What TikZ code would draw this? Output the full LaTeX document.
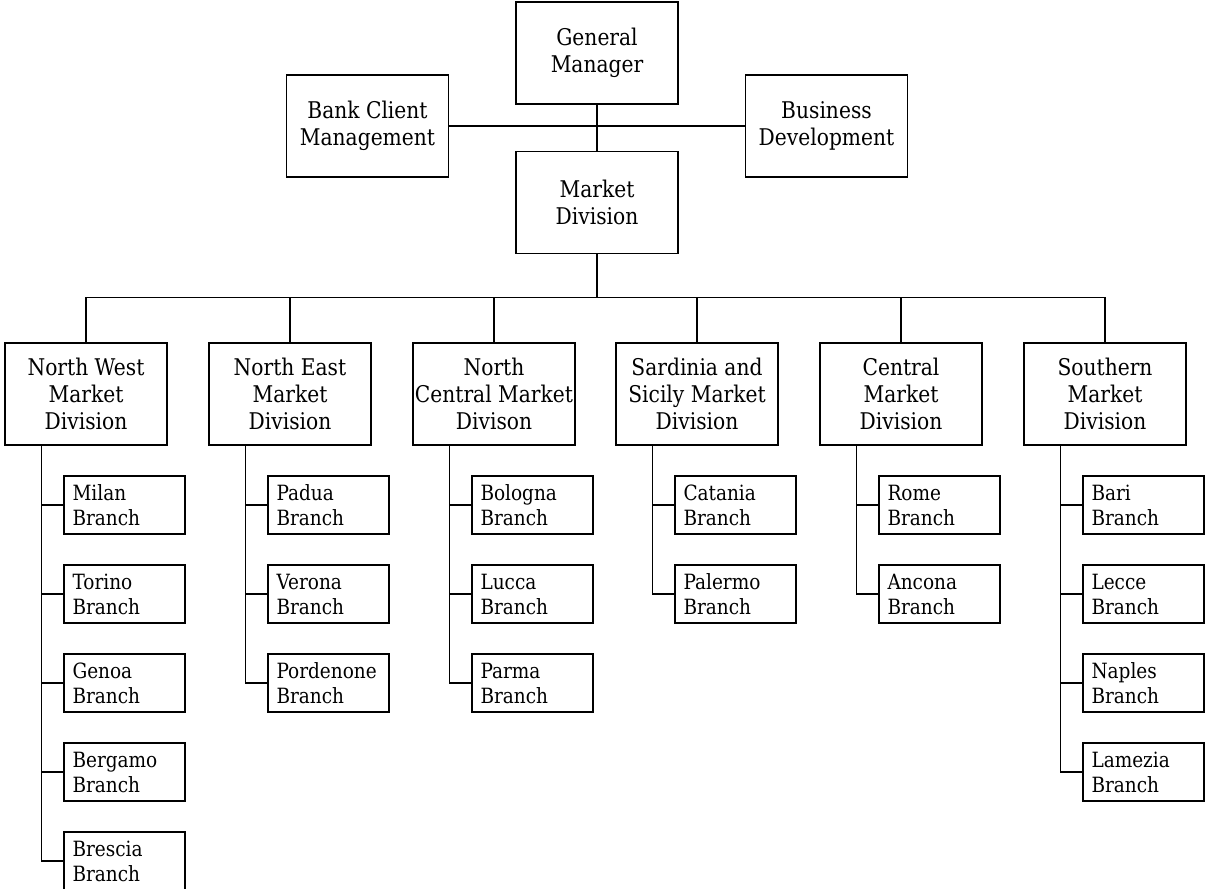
\documentclass[tikz,border=0pt]{standalone}
\usepackage{fontspec}
\setmainfont{DejaVu Serif}[FakeStretch=0.88]
\usepackage{tikz}
\usetikzlibrary{positioning}
\tikzset{
  orgnode/.style = {draw=black, line width=0.6pt, inner sep=0pt},
  org_m/.style = {orgnode, align=center, minimum width=81pt,
    minimum height=51pt, font=\fontsize{11.5}{13.5}\selectfont},% boite principale
  org_b/.style = {orgnode, align=left, text width=52pt, inner xsep=4.25pt,
    minimum height=29pt, font=\fontsize{10.5}{12.5}\selectfont}% agence
}
\begin{document}
\begin{tikzpicture}[x=0.5pt,y=-0.5pt]
\clip (0,0) rectangle (1207,889);
% direction
\node [org_m] (gm) at (597,53) {General\\Manager};
\node [org_m] (md) [below=23pt of gm] {Market\\Division};
\node [org_m] (bcm) at (367.5,126) {Bank Client\\Management};
\node [org_m] (bd) at (826.5,126) {Business\\Development};
\coordinate (bus) at (0,297.7);
% divisions
\node [org_m] (nw) at (86,394) {North West\\Market\\Division};
\node [org_m] (ne) at (290,394) {North East\\Market\\Division};
\node [org_m] (nc) at (494,394) {North\\Central Market\\Divison};
\node [org_m] (ss) at (697,394) {Sardinia and\\Sicily Market\\Division};
\node [org_m] (ce) at (901,394) {Central\\Market\\Division};
\node [org_m] (so) at (1105,394) {Southern\\Market\\Division};
\coordinate (nw_s) at ([xshift=18.5pt]nw.south west);
\coordinate (ne_s) at ([xshift=18.5pt]ne.south west);
\coordinate (nc_s) at ([xshift=18.5pt]nc.south west);
\coordinate (ss_s) at ([xshift=18.5pt]ss.south west);
\coordinate (ce_s) at ([xshift=18.5pt]ce.south west);
\coordinate (so_s) at ([xshift=18.5pt]so.south west);
% agences
\node [org_b] (milan) at (124.5,505) {Milan\\Branch};
\node [org_b] (torino) [below=14.9pt of milan] {Torino\\Branch};
\node [org_b] (genoa) [below=14.9pt of torino] {Genoa\\Branch};
\node [org_b] (bergamo) [below=14.9pt of genoa] {Bergamo\\Branch};
\node [org_b] (brescia) [below=14.9pt of bergamo] {Brescia\\Branch};
\node [org_b] (padua) at (328.5,505) {Padua\\Branch};
\node [org_b] (verona) [below=14.9pt of padua] {Verona\\Branch};
\node [org_b] (pordenone) [below=14.9pt of verona] {Pordenone\\Branch};
\node [org_b] (bologna) at (532.5,505) {Bologna\\Branch};
\node [org_b] (lucca) [below=14.9pt of bologna] {Lucca\\Branch};
\node [org_b] (parma) [below=14.9pt of lucca] {Parma\\Branch};
\node [org_b] (catania) at (735.5,505) {Catania\\Branch};
\node [org_b] (palermo) [below=14.9pt of catania] {Palermo\\Branch};
\node [org_b] (rome) at (939.5,505) {Rome\\Branch};
\node [org_b] (ancona) [below=14.9pt of rome] {Ancona\\Branch};
\node [org_b] (bari) at (1143.5,505) {Bari\\Branch};
\node [org_b] (lecce) [below=14.9pt of bari] {Lecce\\Branch};
\node [org_b] (naples) [below=14.9pt of lecce] {Naples\\Branch};
\node [org_b] (lamezia) [below=14.9pt of naples] {Lamezia\\Branch};
% liens
\begin{scope}[line width=0.6pt]
\draw (gm) -- (md);
\draw (bcm) -- (bd);
\draw (md) -- (md |- bus);
\draw (nw) -- (nw |- bus) -- (so |- bus) -- (so);
\draw (ne) -- (ne |- bus);
\draw (nc) -- (nc |- bus);
\draw (ss) -- (ss |- bus);
\draw (ce) -- (ce |- bus);
\draw (nw_s) |- (brescia);
\draw (milan) -- (milan -| nw_s);
\draw (torino) -- (torino -| nw_s);
\draw (genoa) -- (genoa -| nw_s);
\draw (bergamo) -- (bergamo -| nw_s);
\draw (ne_s) |- (pordenone);
\draw (padua) -- (padua -| ne_s);
\draw (verona) -- (verona -| ne_s);
\draw (nc_s) |- (parma);
\draw (bologna) -- (bologna -| nc_s);
\draw (lucca) -- (lucca -| nc_s);
\draw (ss_s) |- (palermo);
\draw (catania) -- (catania -| ss_s);
\draw (ce_s) |- (ancona);
\draw (rome) -- (rome -| ce_s);
\draw (so_s) |- (lamezia);
\draw (bari) -- (bari -| so_s);
\draw (lecce) -- (lecce -| so_s);
\draw (naples) -- (naples -| so_s);
\end{scope}
\end{tikzpicture}
\end{document}
